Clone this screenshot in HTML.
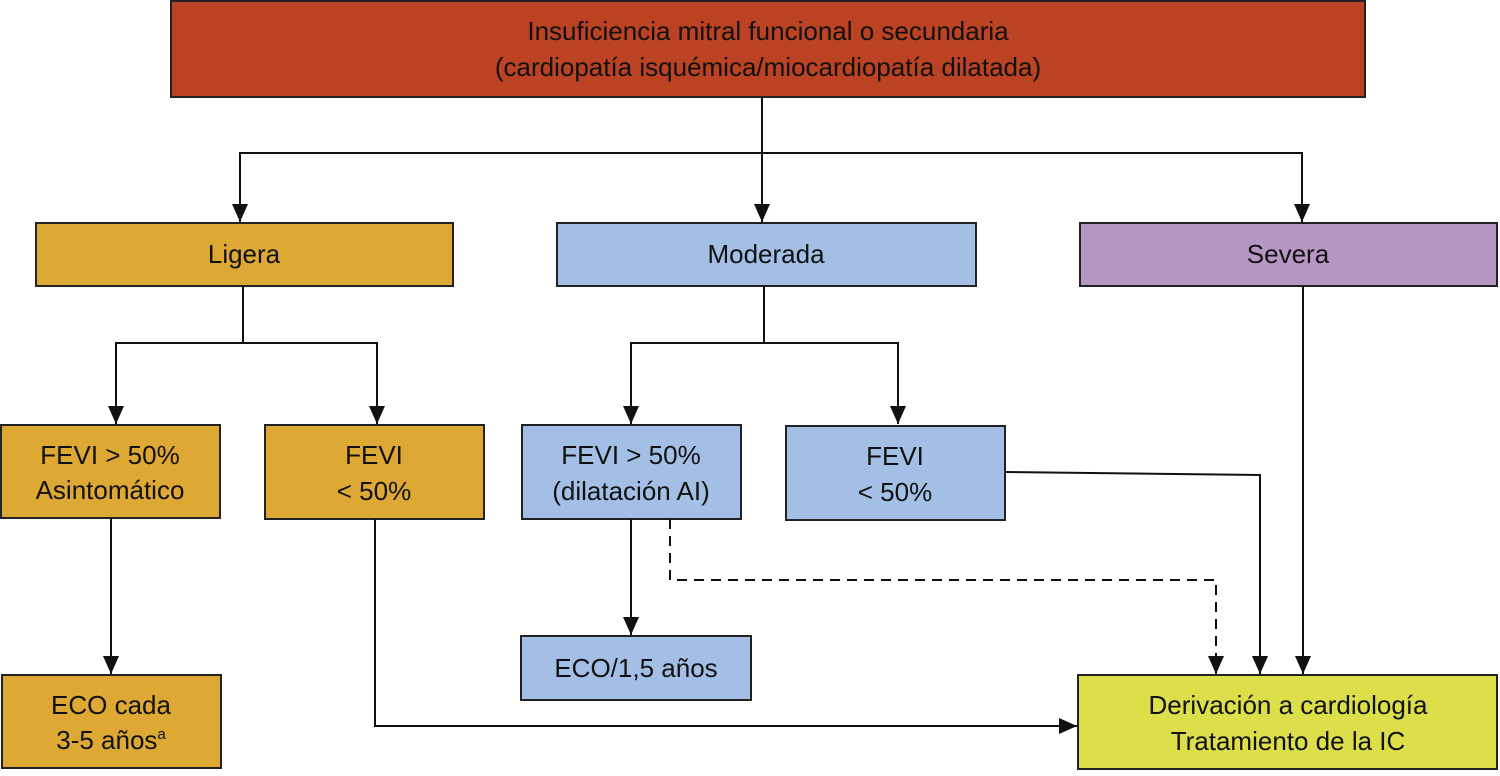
<!DOCTYPE html>
<html><head><meta charset="utf-8"><style>
body{margin:0;background:#fff;width:1500px;height:771px;overflow:hidden}
svg text{font-family:"Liberation Sans",Arial,sans-serif;font-size:26px;fill:#111;text-anchor:middle}
</style></head><body>
<svg width="1500" height="771" viewBox="0 0 1500 771" xmlns="http://www.w3.org/2000/svg">
<defs><marker id="a" markerWidth="12" markerHeight="12" refX="10" refY="6" orient="auto" markerUnits="userSpaceOnUse"><path d="M0,0 L12,6 L0,12 z" fill="#111"/></marker>
<marker id="b" markerWidth="20" markerHeight="16" refX="18" refY="8" orient="auto" markerUnits="userSpaceOnUse"><path d="M0,0 L18,8 L0,16 z" fill="#111"/></marker></defs>
<g stroke="#222" stroke-width="2">
<rect x="171" y="1" width="1194" height="96" fill="#bb4222"/>
<rect x="36" y="223" width="417" height="63" fill="#dea835"/>
<rect x="557" y="223" width="419" height="63" fill="#a3bfe6"/>
<rect x="1080" y="223" width="417" height="63" fill="#b896c4"/>
<rect x="1" y="425" width="219" height="93" fill="#dea835"/>
<rect x="265" y="425" width="219" height="94" fill="#dea835"/>
<rect x="522" y="425" width="219" height="94" fill="#a3bfe6"/>
<rect x="786" y="426" width="219" height="94" fill="#a3bfe6"/>
<rect x="521" y="636" width="230" height="64" fill="#a3bfe6"/>
<rect x="2" y="675" width="219" height="93" fill="#dea835"/>
<rect x="1078" y="675" width="419" height="94" fill="#dcdf4a"/>
</g>
<g stroke="#111" stroke-width="2" fill="none" marker-end="url(#b)">
<path d="M762 97 V222"/>
<path d="M762 153 H240 V222"/>
<path d="M762 153 H1302 V222"/>
<path d="M243 286 V343 H116 V424"/>
<path d="M243 343 H377 V424"/>
<path d="M764 286 V343 H631 V424"/>
<path d="M764 343 H898 V424"/>
<path d="M1005 472 L1260 475 V674"/>
<path d="M1303 286 V674"/>
<path d="M631 519 V635"/>
<path d="M111 518 V674"/>
<path d="M375 519 V726 H1077"/>
<path d="M670 519 V580 H1216 V674" stroke-dasharray="10,7"/>
</g>
<text x="768" y="40">Insuficiencia mitral funcional o secundaria</text>
<text x="768" y="76">(cardiopatía isquémica/miocardiopatía dilatada)</text>
<text x="244" y="263">Ligera</text>
<text x="766" y="263">Moderada</text>
<text x="1288" y="263">Severa</text>
<text x="110" y="464">FEVI &gt; 50%</text>
<text x="110" y="499">Asintomático</text>
<text x="374" y="464">FEVI</text>
<text x="374" y="500">&lt; 50%</text>
<text x="631" y="464">FEVI &gt; 50%</text>
<text x="631" y="500">(dilatación AI)</text>
<text x="895" y="465">FEVI</text>
<text x="895" y="501">&lt; 50%</text>
<text x="636" y="677">ECO/1,5 años</text>
<text x="111" y="714">ECO cada</text>
<text x="111" y="749">3-5 años<tspan font-size="15" dy="-10">a</tspan></text>
<text x="1288" y="714">Derivación a cardiología</text>
<text x="1288" y="750">Tratamiento de la IC</text>
</svg>
</body></html>
